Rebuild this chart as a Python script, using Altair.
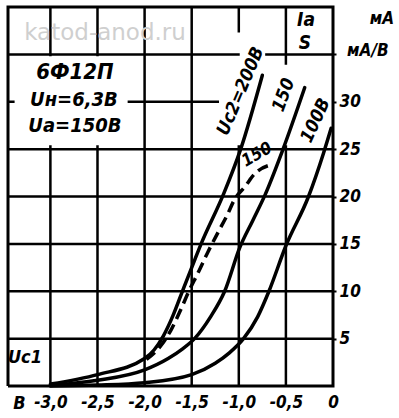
import altair as alt
import pandas as pd
import numpy as np

FONT = "DejaVu Sans Condensed, DejaVu Sans, sans-serif"

# axis ranges
X_MIN, X_MAX = -3.45, 0.0
Y_MIN, Y_MAX = 0.0, 40.0

x_ticks = [-3.0, -2.5, -2.0, -1.5, -1.0, -0.5, 0.0]
y_ticks = [5, 10, 15, 20, 25, 30, 35]

# Ia vs Uc1 for Uc2 = 200 V
uc1_200 = [-3.0, -2.5, -2.0, -1.9, -1.8, -1.7, -1.61, -1.5, -1.40, -1.16, -0.98, -0.75]
ia_200 = [0.2, 1.2, 2.9, 3.8, 5.3, 7.4, 9.7, 12.5, 15.0, 20.3, 25.0, 32.8]

# Ia vs Uc1 for Uc2 = 150 V
uc1_150 = [-3.0, -2.5, -2.0, -1.75, -1.6, -1.47, -1.3, -1.15, -0.99, -0.85, -0.72, -0.53, -0.30]
ia_150 = [0.05, 0.6, 1.7, 2.9, 3.9, 5.0, 7.3, 10.0, 14.6, 17.5, 20.2, 25.0, 31.5]

# Ia vs Uc1 for Uc2 = 100 V
uc1_100 = [-3.0, -2.5, -2.0, -1.5, -1.25, -1.1, -0.95, -0.8, -0.68, -0.50, -0.26, -0.10, -0.02]
ia_100 = [0.0, 0.1, 0.35, 1.2, 2.4, 3.5, 5.0, 7.3, 10.0, 14.8, 20.0, 24.6, 27.2]

# S (mA/V) vs Uc1 for Uc2 = 150 V (dashed)
uc1_s = [-1.98, -1.84, -1.72, -1.61, -1.53, -1.43, -1.33, -1.21, -1.12, -1.05, -0.93, -0.84, -0.64]
s_150 = [2.8, 4.1, 5.9, 8.2, 10.0, 12.0, 14.1, 16.4, 18.1, 19.6, 21.1, 22.3, 23.4]

solid = pd.concat([
    pd.DataFrame({"x": uc1_200, "y": ia_200, "s": "200"}),
    pd.DataFrame({"x": uc1_150, "y": ia_150, "s": "150"}),
    pd.DataFrame({"x": uc1_100, "y": ia_100, "s": "100"}),
])
dashed = pd.DataFrame({"x": uc1_s, "y": s_150})

x_scale = alt.Scale(domain=[X_MIN, X_MAX], nice=False, zero=False)
y_scale = alt.Scale(domain=[Y_MIN, Y_MAX], nice=False, zero=False)

x_axis = alt.Axis(
    values=x_ticks, title=None, grid=False, ticks=False, domain=False,
    labelExpr="datum.value == 0 ? '0' : '-' + replace(format(abs(datum.value), '.1f'), '.', ',')",
    labelFont=FONT, labelFontSize=17, labelFontWeight="bold", labelFontStyle="italic",
    labelColor="black", labelPadding=8, labelFlush=False, labelOverlap=False,
)
y_axis = alt.Axis(
    orient="right", values=y_ticks, title=None, grid=False,
    ticks=True, tickSize=3, tickWidth=2, tickColor="black", domain=False,
    labelExpr="datum.value >= 35 ? '' : datum.label",
    labelFont=FONT, labelFontSize=17, labelFontWeight="bold", labelFontStyle="italic",
    labelColor="black", labelPadding=3, labelAlign="left", labelBaseline="middle",
    labelOverlap=False, labelFlush=False,
)


def X(f="x"):
    return alt.X(f, type="quantitative", scale=x_scale, axis=x_axis)


def Y(f="y"):
    return alt.Y(f, type="quantitative", scale=y_scale, axis=y_axis)


# printed grid, with the gaps left for the inscriptions: (x0, y0, x1, y1) per segment
grid_segments = [
    (-3.0, 0.0, -3.0, 25.4), (-3.0, 34.8, -3.0, 40.0),
    (-2.5, 40.0, -2.5, 34.8), (-2.5, 25.4, -2.5, 0.0),
    (-2.0, 0.0, -2.0, 40.0),
    (-1.5, 40.0, -1.5, 0.0),
    (-1.0, 0.0, -1.0, 25.4), (-1.0, 37.3, -1.0, 40.0),
    (-0.5, 40.0, -0.5, 33.9), (-0.5, 25.4, -0.5, 0.0),
    (X_MIN, 5, X_MAX, 5), (X_MAX, 10, X_MIN, 10), (X_MIN, 15, X_MAX, 15),
    (X_MAX, 20, X_MIN, 20), (X_MIN, 25, X_MAX, 25),
    (X_MAX, 35, -0.72, 35), (-0.99, 35, X_MIN, 35),
    (X_MIN, 30, -3.38, 30), (-2.18, 30, -1.21, 30),
]
# one path, broken into pieces by empty (null) rows
grid_rows = []
k = 0
for x0, y0, x1, y1 in grid_segments:
    grid_rows.append({"x": x0, "y": y0, "o": k})
    grid_rows.append({"x": x1, "y": y1, "o": k + 1})
    grid_rows.append({"x": np.nan, "y": np.nan, "o": k + 2})
    k += 3
grid = pd.DataFrame(grid_rows)

grid_layer = alt.Chart(grid).mark_line(color="black", strokeWidth=2.5, strokeJoin="miter").encode(
    x=X(), y=Y(), order="o:Q")

solid_layer = alt.Chart(solid).mark_line(
    color="black", strokeWidth=3.5, interpolate="monotone", strokeCap="round").encode(
    x=X(), y=Y(), detail="s:N")

dashed_layer = alt.Chart(dashed).mark_line(
    color="black", strokeWidth=3.5, interpolate="monotone", strokeDash=[11, 6]).encode(
    x=X(), y=Y())

border_rows = [
    {"x": X_MIN, "y": Y_MIN, "o": 0}, {"x": X_MAX, "y": Y_MIN, "o": 1},
    {"x": X_MAX, "y": Y_MAX, "o": 2}, {"x": X_MIN, "y": Y_MAX, "o": 3},
    {"x": X_MIN, "y": Y_MIN, "o": 4},
]
border = alt.Chart(pd.DataFrame(border_rows)).mark_line(
    color="black", strokeWidth=3, strokeJoin="miter").encode(x=X(), y=Y(), order="o:Q")


def note(text, x, y, size, angle=0, color="black", weight="bold", style="italic", font=FONT, align="center"):
    return alt.Chart(pd.DataFrame({"x": [x], "y": [y], "t": [text]})).mark_text(
        font=font, fontSize=size, fontWeight=weight, fontStyle=style, color=color,
        angle=angle, align=align, baseline="middle").encode(x=X(), y=Y(), text="t:N")


notes = [
    note("6Ф12П", -2.74, 33.1, 22),
    note("Uн=6,3В", -2.75, 30.2, 20),
    note("Uа=150В", -2.74, 27.4, 20),
    note("Uс2=200В", -0.977, 31.1, 18, angle=293),
    note("150", -0.52, 30.7, 18, angle=290),
    note("100В", -0.18, 28.0, 18, angle=295),
    note("150", -0.807, 24.4, 17, angle=330),
    note("Iа", -0.287, 38.6, 19),
    note("S", -0.297, 36.2, 19),
    note("Uс1", -3.27, 2.96, 18),
    note("мА", 0.52, 38.7, 17),
    note("мА/В", 0.37, 35.4, 17),
    note("В", -3.33, -1.9, 18),
]
watermark = note("katod-anod.ru", -2.42, 37.26, 23, color="#cfcfcf", weight="normal", style="normal",
                 font="DejaVu Sans, sans-serif")

chart = alt.layer(grid_layer, solid_layer, dashed_layer, *notes, border, watermark).properties(
    width=325, height=379,
    autosize=alt.AutoSizeParams(type="none"),
    padding={"left": 8, "top": 7, "right": 66, "bottom": 32},
    background="white",
).configure_view(stroke=None)

chart.save("out.html", embed_options={"renderer": "svg", "actions": False})
